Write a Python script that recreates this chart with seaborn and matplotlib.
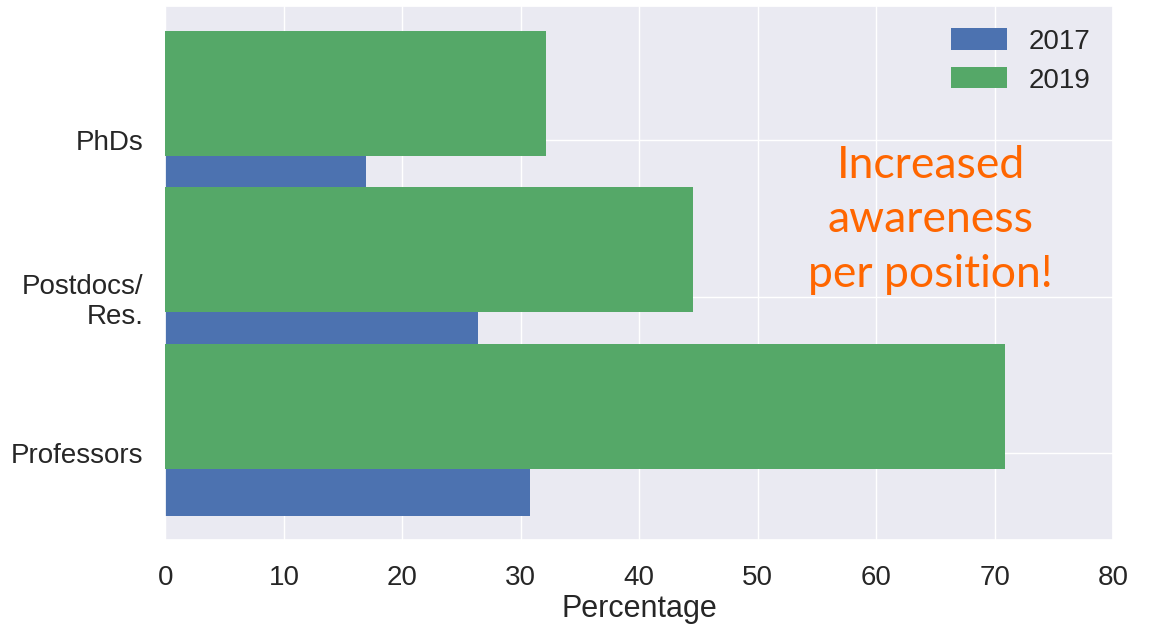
import numpy as np
import matplotlib
matplotlib.use("Agg")
import matplotlib.pyplot as plt
import seaborn as sns

# data
positions = ["Professors", "Postdocs/\nRes.", "PhDs"]
years = ["2017", "2019"]
pct_2017 = [30.8, 26.4, 16.9]
pct_2019 = [70.9, 44.5, 32.1]

sns.set_theme(style="darkgrid")
plt.rcParams['font.family'] = ['Liberation Sans', 'DejaVu Sans']

# old seaborn "deep" blue and green
colors = ["#4C72B0", "#55A868"]
fig, ax = plt.subplots(figsize=(11.57, 6.25), dpi=100)

y = np.arange(len(positions))
ax.barh(y, pct_2017, height=0.8, color=colors[0], label=years[0], linewidth=0, zorder=2)
ax.barh(y + 0.3, pct_2019, height=0.8, color=colors[1], label=years[1], linewidth=0, zorder=3)

ax.set_yticks(y)
ax.set_yticklabels(positions, fontsize=20)
ax.set_xlim(0, 80)
ax.set_xticks(range(0, 81, 10))
ax.tick_params(axis='x', labelsize=20, pad=12)
ax.tick_params(axis='y', pad=10)
ax.set_xlabel("Percentage", fontsize=22, labelpad=2)

ax.legend(loc="upper right", frameon=False, fontsize=20, handlelength=2.0,
          handleheight=0.8, handletextpad=0.8, labelspacing=0.45, borderaxespad=0.4)

ax.text(64.6, 1.49, "Increased\nawareness\nper position!", color="#FF6600",
        fontsize=32, family=['Lato', 'DejaVu Sans'], ha='center', va='center',
        linespacing=1.42)

plt.subplots_adjust(left=0.143, right=0.962, top=0.99, bottom=0.136)
plt.savefig("out.png", dpi=100)
